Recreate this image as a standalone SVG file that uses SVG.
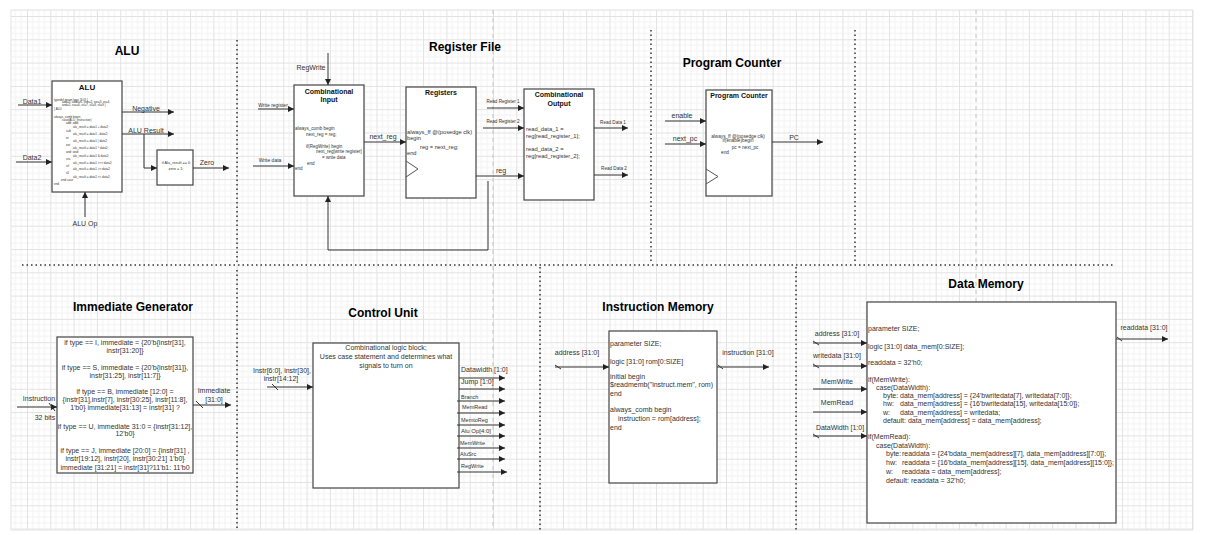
<svg xmlns="http://www.w3.org/2000/svg" width="1207" height="535" viewBox="0 0 1207 535">
<style>
text{font-family:"Liberation Sans",Arial,Helvetica,sans-serif;fill:#333}
.t{font-size:12px;font-weight:bold;fill:#000;text-anchor:middle}
.bt{font-size:7px;font-weight:bold;fill:#111;text-anchor:middle}
.l7{font-size:7px}
.l5{font-size:5.5px}
.l46{font-size:4.6px}
.c{text-anchor:middle}
.box{fill:#fff;stroke:#444;stroke-width:1.2}
.w{stroke:#333;stroke-width:1;fill:none}
.a{stroke:#333;stroke-width:1;fill:none;marker-end:url(#arr)}
.dot{stroke:#333;stroke-width:1.5;stroke-dasharray:1.5 3;fill:none}
.pb{stroke:#c4c4c4;stroke-width:1;stroke-dasharray:4 4;fill:none}
</style>
<defs>
<marker id="arr" viewBox="0 0 6 6" refX="6" refY="3" markerWidth="6" markerHeight="6" markerUnits="userSpaceOnUse" orient="auto">
<path d="M0,0 L6,3 L0,6 z" fill="#222"/>
</marker>
<pattern id="grid" x="27" y="16" width="23.3" height="23.3" patternUnits="userSpaceOnUse">
<path d="M5.825 0V23.3M11.65 0V23.3M17.475 0V23.3M0 5.825H23.3M0 11.65H23.3M0 17.475H23.3" stroke="#f2f2f2" stroke-width="1" fill="none"/>
<path d="M0.5 0V23.3M0 0.5H23.3" stroke="#e2e2e2" stroke-width="1" fill="none"/>
</pattern>
</defs>
<rect width="1207" height="535" fill="#fff"/>
<rect x="11" y="10" width="1182" height="520" fill="url(#grid)" stroke="#e4e4e4" stroke-width="1"/>

<g id="separators">
<path class="pb" d="M493 10V530M976 10V530"/>
<path class="dot" d="M237 40V262M651 30V263M855 30V263M22 265H1115M237 270V530M540 267V530M796 267V530"/>
</g>

<g id="titles">
<text class="t" x="127" y="55">ALU</text>
<text class="t" x="465" y="51">Register File</text>
<text class="t" x="732" y="67">Program Counter</text>
<text class="t" x="133" y="311">Immediate Generator</text>
<text class="t" x="383" y="317">Control Unit</text>
<text class="t" x="658" y="311">Instruction Memory</text>
<text class="t" x="986" y="288">Data Memory</text>
</g>

<g id="alu">
<rect class="box" x="52" y="81" width="70" height="111"/>
<text class="bt" x="87" y="90" style="font-size:8px">ALU</text>
<g style="font-size:3px">
<text x="54" y="101">typedef enum logic [3:0] {</text>
<text x="62" y="103.3">add=0, addu=1, sub=2, xor=3, or=4,</text>
<text x="62" y="106">and=5, sra=6, srl=7, sll=8, slt=9 }</text>
<text x="54" y="109.7">} ALU;</text>
<text x="54" y="118.3">always_comb begin</text>
<text x="62" y="121">case(ALU_instruction)</text>
<text x="66" y="124.3">add: addi</text>
<text x="73" y="128.3">alu_result = data1 + data2;</text>
<text x="66" y="131.7">sub</text>
<text x="73" y="135">alu_result = data1 - data2;</text>
<text x="66" y="138.7">or</text>
<text x="73" y="142.3">alu_result = data1 | data2;</text>
<text x="66" y="146">xor</text>
<text x="73" y="149.3">alu_result = data1 ^ data2;</text>
<text x="66" y="152.7">and: andi</text>
<text x="73" y="156.7">alu_result = data1 &amp; data2;</text>
<text x="66" y="160.3">sra</text>
<text x="73" y="163.7">alu_result = data1 &gt;&gt;&gt; data2;</text>
<text x="66" y="167">srl</text>
<text x="73" y="170.3">alu_result = data1 &gt;&gt; data2;</text>
<text x="66" y="174">sll</text>
<text x="73" y="177.7">alu_result = data1 &lt;&lt; data2;</text>
<text x="61" y="181">end case</text>
<text x="54" y="185">end</text>
</g>
</g>

<g id="zero-check">
<rect class="box" x="157" y="150" width="36" height="35"/>
<text class="c" x="176" y="163.5" style="font-size:3.8px">if Alu_result == 0</text>
<text class="c" x="176" y="169.5" style="font-size:3.8px">zero = 1;</text>
</g>

<g id="comb-input">
<rect class="box" x="294" y="85" width="70" height="111"/>
<text class="bt" x="329" y="93.5">Combinational</text>
<text class="bt" x="329" y="101.5">Input</text>
<g style="font-size:4.5px">
<text x="295" y="129.5">always_comb begin</text>
<text x="306" y="135.5">next_reg = reg;</text>
<text x="306" y="147.5">if(RegWrite) begin</text>
<text x="316" y="152.5">next_reg[write register]</text>
<text x="322" y="158.5">= write data</text>
<text x="307" y="164.5">end</text>
<text x="295" y="169.5">end</text>
</g>
</g>

<g id="registers">
<rect class="box" x="406" y="87" width="70" height="111"/>
<text class="bt" x="441" y="94.5">Registers</text>
<g style="font-size:5.7px">
<text x="407" y="134">always_ff @(posedge clk)</text>
<text x="407" y="140">begin</text>
<text x="420" y="149">reg = next_reg;</text>
<text x="407" y="155">end</text>
</g>
<polyline class="w" points="406,161 418,169 406,177" style="stroke:#555"/>
</g>

<g id="comb-output">
<rect class="box" x="524" y="89" width="70" height="111"/>
<text class="bt" x="559" y="96.5">Combinational</text>
<text class="bt" x="559" y="105.5">Output</text>
<g style="font-size:5.8px">
<text x="526" y="131">read_data_1 =</text>
<text x="526" y="138">reg[read_register_1];</text>
<text x="526" y="151">read_data_2 =</text>
<text x="526" y="158">reg[read_register_2];</text>
</g>
</g>

<g id="program-counter">
<rect class="box" x="706" y="90" width="66" height="106"/>
<text class="bt" x="739" y="97.5">Program Counter</text>
<g style="font-size:4.7px;text-anchor:middle">
<text x="738" y="137.5">always_ff @(posedge clk)</text>
<text x="738" y="141.5">if(enable)begin</text>
<text x="745" y="148.5">pc = next_pc</text>
<text x="725" y="153.5">end</text>
</g>
<polyline class="w" points="706,169 718,176.5 706,184" style="stroke:#555"/>
</g>

<g id="immediate-generator">
<rect class="box" x="57" y="337" width="136" height="136"/>
<g class="l7" style="text-anchor:middle">
<text x="125" y="344.5">if type == I, immediate = {20'b{instr[31],</text>
<text x="125" y="352.5">instr[31:20]}</text>
<text x="125" y="369.5">if type == S, immediate = {20'b{instr[31]},</text>
<text x="125" y="377.5">instr[31:25], instr[11:7]}</text>
<text x="125" y="393.5">if type == B, immediate [12:0] =</text>
<text x="125" y="401.5">{instr[31],instr[7], instr[30:25], instr[11:8],</text>
<text x="125" y="409.5">1'b0} immediate[31:13] = instr[31] ?</text>
<text x="125" y="428.5">if type == U, immediate 31:0 = {instr[31:12],</text>
<text x="125" y="435.5">12'b0}</text>
<text x="125" y="452.5">if type == J, immediate [20:0] = {instr[31] ,</text>
<text x="125" y="460.5">instr[19:12], instr[20], instr[30:21] 1'b0}</text>
<text x="125" y="469.5">immediate [31:21] = instr[31]?11'b1: 11'b0</text>
</g>
</g>

<g id="control-unit">
<rect class="box" x="313" y="343" width="146" height="145"/>
<g class="l7" style="text-anchor:middle">
<text x="386" y="349.5">Combinational logic block;</text>
<text x="386" y="358.5">Uses case statement and determines what</text>
<text x="386" y="367.5">signals to turn on</text>
</g>
</g>

<g id="instruction-memory">
<rect class="box" x="609" y="331" width="108" height="152"/>
<g class="l7">
<text x="610" y="345.5">parameter SIZE;</text>
<text x="610" y="363.5">logic [31:0] rom[0:SIZE]</text>
<text x="610" y="378.5">initial begin</text>
<text x="610" y="386.5">$readmemb("instruct.mem", rom)</text>
<text x="610" y="395.5">end</text>
<text x="610" y="411.5">always_comb begin</text>
<text x="618" y="420.5">instruction = rom[address];</text>
<text x="610" y="429.5">end</text>
</g>
</g>

<g id="data-memory">
<rect class="box" x="867" y="302" width="249" height="221"/>
<g class="l7">
<text x="868" y="330.5">parameter SIZE;</text>
<text x="868" y="348.5">logic [31:0] data_mem[0:SIZE];</text>
<text x="868" y="364.5">readdata = 32'h0;</text>
<text x="868" y="381.5">if(MemWrite):</text>
<text x="876" y="389.5">case(DataWidth):</text>
<text x="883" y="397.5">byte: <tspan x="900">data_mem[address] = {24'bwritedata[7], writedata[7:0]};</tspan></text>
<text x="883" y="405.5">hw: <tspan x="900">data_mem[address] = {16'bwritedata[15], writedata[15:0]};</tspan></text>
<text x="883" y="414.5">w: <tspan x="900">data_mem[address] = writedata;</tspan></text>
<text x="883" y="422.5">default: data_mem[address] = data_mem[address];</text>
<text x="868" y="438.5">if(MemRead):</text>
<text x="876" y="447.5">case(DataWidth):</text>
<text x="886" y="455.5">byte: <tspan x="902">readdata = {24'bdata_mem[address][7], data_mem[address][7:0]};</tspan></text>
<text x="886" y="464.5">hw: <tspan x="902">readdata = {16'bdata_mem[address][15], data_mem[address][15:0]};</tspan></text>
<text x="886" y="473.5">w: <tspan x="902">readdata = data_mem[address];</tspan></text>
<text x="886" y="482.5">default: readdata = 32'h0;</text>
</g>
</g>

<g id="connectors">
<path class="a" d="M18 105H52"/>
<path class="a" d="M16 162H52"/>
<path class="a" d="M122 112H174"/>
<path class="a" d="M122 134H174"/>
<path class="a" d="M144 134V168H157"/>
<path class="a" d="M193 168H229"/>
<path class="a" d="M85 217V192"/>
<path class="a" d="M328 53V85"/>
<path class="a" d="M258 109H294"/>
<path class="a" d="M253 166H294"/>
<path class="a" d="M364 142H406"/>
<path class="a" d="M476 176H524"/>
<path class="a" d="M488 181V250H328V196"/>
<path class="a" d="M487 108H524"/>
<path class="a" d="M483 128H524"/>
<path class="a" d="M594 128H628"/>
<path class="a" d="M594 175H628"/>
<path class="a" d="M665 121H706"/>
<path class="a" d="M665 144H706"/>
<path class="a" d="M772 142H823"/>
<path class="a" d="M17 407H57"/>
<path class="w" d="M49 403L55 411"/>
<path class="a" d="M193 405H231"/>
<path class="w" d="M196 401L203 408"/>
<path class="a" d="M267 387H313"/>
<path class="w" d="M272 384L278 390"/>
<path class="a" d="M459 378H505"/>
<path class="a" d="M459 389H505"/>
<path class="a" d="M457 401H505"/>
<path class="a" d="M457 413H505"/>
<path class="a" d="M457 425H505"/>
<path class="a" d="M457 436H505"/>
<path class="a" d="M457 448H505"/>
<path class="a" d="M457 459H505"/>
<path class="a" d="M457 472H507"/>
<path class="a" d="M555 367H609"/>
<path class="w" d="M555 365L561 369"/>
<path class="a" d="M717 367H769"/>
<path class="w" d="M718 365L723 369"/>
<path class="a" d="M813 343H867"/>
<path class="w" d="M813 341L819 345"/>
<path class="a" d="M813 366H867"/>
<path class="w" d="M813 364L819 368"/>
<path class="a" d="M813 389H867"/>
<path class="a" d="M813 412H867"/>
<path class="a" d="M813 436H867"/>
<path class="w" d="M813 434L819 438"/>
<path class="a" d="M1116 339H1168"/>
<path class="w" d="M1117 337L1122 341"/>
</g>

<g id="labels">
<g class="l7 c">
<text x="32" y="103.5">Data1</text>
<text x="32" y="159.5">Data2</text>
<text x="146" y="110.5">Negative</text>
<text x="146" y="132.5">ALU Result</text>
<text x="207" y="164.5">Zero</text>
<text x="85" y="225.5">ALU Op</text>
<text x="311" y="69.5">RegWrite</text>
<text x="383" y="138.5">next_reg</text>
<text x="501" y="173">reg</text>
<text x="682" y="117.5">enable</text>
<text x="685" y="140.5">next_pc</text>
<text x="794" y="140">PC</text>
<text x="39" y="400.5">Instruction</text>
<text x="45" y="419.5">32 bits</text>
<text x="214" y="392.5">Immediate</text>
<text x="214" y="401.5">[31:0]</text>
<text x="282" y="372.5">Instr[6:0], instr[30],</text>
<text x="281" y="380.5">instr[14:12]</text>
<text x="577" y="354.5">address [31:0]</text>
<text x="748" y="354.5">instruction [31:0]</text>
<text x="837" y="335.5">address [31:0]</text>
<text x="837" y="357.5">writedata [31:0]</text>
<text x="837" y="383.5">MemWrite</text>
<text x="837" y="404.5">MemRead</text>
<text x="840" y="429.5">DataWidth [1:0]</text>
<text x="1144" y="329.5">readdata [31:0]</text>
</g>
<text class="c" x="273" y="106.7" style="font-size:5px">Write register</text>
<text class="c" x="270" y="161.7" style="font-size:5px">Write data</text>
<g class="l46 c">
<text x="503" y="102.6">Read Register 1</text>
<text x="503" y="122.6">Read Register 2</text>
<text x="613" y="123.6">Read Data 1</text>
<text x="614" y="169.6">Read Data 2</text>
</g>
<text class="l7" x="461" y="371.5">Datawidth [1:0]</text>
<text class="l7" x="461" y="383.5">Jump [1:0]</text>
<g class="l5">
<text x="461" y="398.7">Branch</text>
<text x="462" y="408.7">MemRead</text>
<text x="461" y="421.7">MemtoReg</text>
<text x="461" y="433" style="font-size:6px">Alu Op[4:0]</text>
<text x="460" y="445">MemWrite</text>
<text x="460" y="456">AluSrc</text>
<text x="461" y="468">RegWrite</text>
</g>
</g>
</svg>
